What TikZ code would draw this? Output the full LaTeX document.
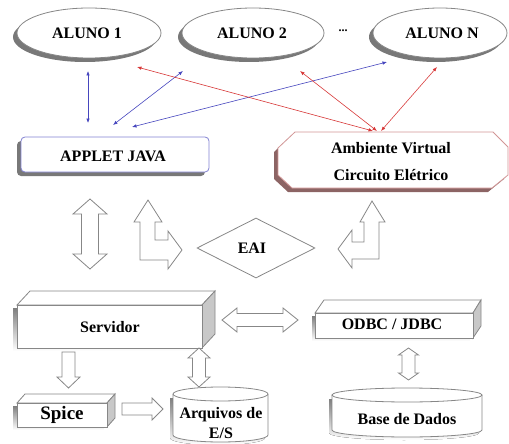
\documentclass[tikz,border=0pt]{standalone}
\usepackage{fontspec}
\setmainfont{Liberation Serif}[BoldFont={Liberation Serif Bold}]
\usetikzlibrary{shapes.geometric,shadows,arrows.meta}
\definecolor{edge}{RGB}{135,135,135}
\definecolor{shade}{RGB}{120,120,120}
\definecolor{lblue}{RGB}{70,70,190}
\definecolor{lred}{RGB}{215,55,55}
\definecolor{jborder}{RGB}{130,130,210}
\definecolor{aborder}{RGB}{210,150,150}
\definecolor{ashade}{RGB}{140,100,100}
\definecolor{sideface}{RGB}{200,200,200}
\begin{document}
\begin{tikzpicture}[x=1pt,y=-1pt,
  lbl/.style={font=\fontsize{16}{18}\selectfont\bfseries, inner sep=0pt},
  blk/.style={draw=edge, fill=white, line width=0.8pt, line join=miter},
  aluno/.style={ellipse, draw=edge, fill=white, line width=0.8pt, minimum height=50pt, inner sep=0pt,
    drop shadow={shadow xshift=-4pt, shadow yshift=-4pt, fill=shade, opacity=1}},
  link/.style={line width=0.6pt, {Latex[length=4.5pt,width=3.5pt]}-{Latex[length=4.5pt,width=3.5pt]}},
]
\useasboundingbox (0,0) rectangle (509,444);

% ---------- students ----------
\node[aluno, minimum width=144pt] (al1) at (89,33) {};
\node[aluno, minimum width=142pt] (al2) at (253,33) {};
\node[aluno, minimum width=134pt] (alN) at (440,33) {};
\node[lbl] (t1) at (87,33) {ALUNO 1};
\node[lbl] (t2) at (252,33) {ALUNO 2};
\node[lbl] (tN) at (442,33) {ALUNO N};
\node[lbl, font=\fontsize{12}{14}\selectfont\bfseries] (dots) at (343,31) {...};

% ---------- APPLET JAVA ----------
\node[draw=jborder, fill=white, line width=0.8pt, rounded corners=4pt, minimum width=188pt, minimum height=35pt,
  drop shadow={shadow xshift=-4pt, shadow yshift=-4pt, fill=shade, opacity=1}] (applet) at (115,154.5) {};
\node[lbl] (tapplet) at (113,156) {APPLET JAVA};

% ---------- Ambiente Virtual ----------
\fill[ashade] (291,136) -- (489,136) -- (504,151) -- (504,179) -- (488,192) -- (288,192) -- (274,179) -- (274,152) -- cycle;
\draw[draw=aborder, fill=white, line width=0.8pt] (295,132) -- (493,132) -- (508,147) -- (508,175) -- (492,188) -- (292,188) -- (278,175) -- (278,148) -- cycle;
\node[lbl, align=center, font=\fontsize{16}{27}\selectfont\bfseries] (amb) at (391,161.5) {Ambiente Virtual\\Circuito Elétrico};

% ---------- connectors top ----------
\coordinate (b1s) at (88,71);   \coordinate (b1e) at (88,123);
\coordinate (b2s) at (183,71);  \coordinate (b2e) at (113,125);
\coordinate (b3s) at (387,62);  \coordinate (b3e) at (132,127);
\coordinate (r1s) at (137,67);  \coordinate (r1e) at (373,131);
\coordinate (r2s) at (300,71);  \coordinate (r2e) at (377,131);
\coordinate (r3s) at (437,67);  \coordinate (r3e) at (381,131);
\draw[link, lblue] (b1s) -- (b1e);
\draw[link, lblue] (b2s) -- (b2e);
\draw[link, lblue] (b3s) -- (b3e);
\draw[link, lred] (r1s) -- (r1e);
\draw[link, lred] (r2s) -- (r2e);
\draw[link, lred] (r3s) -- (r3e);

% ---------- block arrows middle ----------
\draw[blk] (90,199) -- (107,214) -- (98.5,214) -- (98.5,254) -- (107,254) -- (90,269) -- (73,254) -- (81.5,254) -- (81.5,214) -- (73,214) -- cycle;
\draw[blk] (148,200) -- (162,222) -- (155,222) -- (155,240) -- (168,240) -- (168,231) -- (182,250) -- (168,269) -- (168,260) -- (140,260) -- (140,222) -- (134,222) -- cycle;
\draw[blk] (372,201) -- (385,222) -- (379,222) -- (379,259) -- (352,259) -- (352,268) -- (338,249) -- (352,230) -- (352,242) -- (364,242) -- (364,222) -- (360,222) -- cycle;

% ---------- EAI ----------
\node[diamond, draw=edge, line width=0.8pt, fill=white, aspect=1.97, minimum width=118pt, minimum height=60pt, inner sep=0pt] (eai) at (256,248) {};
\node[lbl] (teai) at (252,248) {EAI};

% ---------- Servidor ----------
\fill[shade] (13,308) rectangle (198,351);
\draw[blk] (17,305) -- (30,291) -- (215,291) -- (202,305) -- cycle;
\draw[blk, fill=sideface] (202,305) -- (215,291) -- (215,334) -- (202,348) -- cycle;
\draw[blk] (17,305) rectangle (202,348);
\node[lbl] (serv) at (110,327) {Servidor};

% ---------- ODBC / JDBC ----------
\fill[shade] (312,316) rectangle (470,341);
\draw[blk] (315,313) -- (324,300) -- (481,300) -- (473,313) -- cycle;
\draw[blk, fill=sideface] (473,313) -- (481,300) -- (481,326) -- (473,338) -- cycle;
\draw[blk] (315,313) rectangle (473,338);
\node[lbl] (odbc) at (392,324) {ODBC / JDBC};

% ---------- Spice ----------
\fill[shade] (13,406) rectangle (104,430);
\draw[blk] (17,403) -- (25,394) -- (115,394) -- (107,403) -- cycle;
\draw[blk, fill=sideface] (107,403) -- (115,394) -- (115,418) -- (107,427) -- cycle;
\draw[blk] (17,403) rectangle (107,427);
\node[lbl, font=\fontsize{19}{22}\selectfont\bfseries] (spice) at (62,415) {Spice};

% ---------- Arquivos de E/S ----------
\fill[shade] (170,398) -- (170,438) arc[start angle=180, end angle=360, x radius=47.5pt, y radius=7pt] -- (265,398) -- cycle;
\draw[blk] (173,394) -- (173,435) arc[start angle=180, end angle=360, x radius=47.5pt, y radius=7pt] -- (268,394);
\draw[blk] (220.5,394) ellipse [x radius=47.5pt, y radius=7pt];
\node[lbl, align=center, font=\fontsize{16}{20}\selectfont\bfseries] (arq) at (221,423) {Arquivos de\\E/S};

% ---------- Base de Dados ----------
\fill[shade] (329,399) -- (329,433) arc[start angle=180, end angle=360, x radius=75pt, y radius=7pt] -- (479,399) -- cycle;
\draw[blk] (332,395) -- (332,430) arc[start angle=180, end angle=360, x radius=75pt, y radius=7pt] -- (482,395);
\draw[blk] (407,395) ellipse [x radius=75pt, y radius=7pt];
\node[lbl] (base) at (407,419) {Base de Dados};

% ---------- block arrows bottom ----------
\draw[blk] (222,320) -- (237,308) -- (237,313.5) -- (283,313.5) -- (283,308) -- (298,320) -- (283,332) -- (283,326.5) -- (237,326.5) -- (237,332) -- cycle;
\draw[blk] (62,352) -- (75,352) -- (75,377) -- (80,377) -- (68.5,388) -- (57,377) -- (62,377) -- cycle;
\draw[blk] (199,348) -- (210,358) -- (205.5,358) -- (205.5,377) -- (210,377) -- (199,387) -- (188,377) -- (192.5,377) -- (192.5,358) -- (188,358) -- cycle;
\draw[blk] (408.5,348) -- (418.5,355) -- (415,355) -- (415,373) -- (418.5,373) -- (408.5,380) -- (398.5,373) -- (402,373) -- (402,355) -- (398.5,355) -- cycle;
\draw[blk] (122,403) -- (152,403) -- (152,398) -- (163,409) -- (152,420) -- (152,415) -- (122,415) -- cycle;
\end{tikzpicture}
\end{document}
